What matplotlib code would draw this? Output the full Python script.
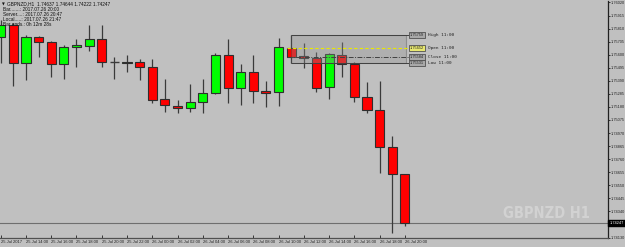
import matplotlib
matplotlib.use("Agg")
import matplotlib.pyplot as plt
from matplotlib.patches import Rectangle

# ---- data ----
opens  = [1.75742, 1.75839, 1.75531, 1.75742, 1.75705, 1.75525, 1.75660, 1.75673, 1.75726, 1.75541,
          1.75531, 1.75541, 1.75504, 1.75242, 1.75190, 1.75174, 1.75217, 1.75295, 1.75598, 1.75330,
          1.75461, 1.75311, 1.75298, 1.75652, 1.75590, 1.75571, 1.75338, 1.75598, 1.75523, 1.75258,
          1.75156, 1.74860, 1.74637]
highs  = [1.75879, 1.75855, 1.75759, 1.75750, 1.75713, 1.75676, 1.75726, 1.75839, 1.75839, 1.75584,
          1.75600, 1.75563, 1.75566, 1.75402, 1.75236, 1.75365, 1.75402, 1.75611, 1.75726, 1.75523,
          1.75598, 1.75389, 1.75732, 1.75759, 1.75697, 1.75619, 1.75616, 1.75705, 1.75539, 1.75383,
          1.75389, 1.74949, 1.74644]
lows   = [1.75533, 1.75348, 1.75397, 1.75584, 1.75423, 1.75407, 1.75499, 1.75630, 1.75504, 1.75402,
          1.75464, 1.75397, 1.75209, 1.75139, 1.75129, 1.75142, 1.75129, 1.75284, 1.75214, 1.75196,
          1.75214, 1.75182, 1.75188, 1.75531, 1.75491, 1.75298, 1.75244, 1.75423, 1.75222, 1.75129,
          1.74651, 1.74169, 1.74222]
closes = [1.75839, 1.75533, 1.75740, 1.75705, 1.75525, 1.75660, 1.75676, 1.75729, 1.75541, 1.75541,
          1.75541, 1.75504, 1.75236, 1.75193, 1.75174, 1.75217, 1.75290, 1.75598, 1.75330, 1.75459,
          1.75308, 1.75295, 1.75660, 1.75584, 1.75571, 1.75330, 1.75603, 1.75523, 1.75263, 1.75158,
          1.74860, 1.74637, 1.74247]

time_labels = ["25 Jul 2017", "25 Jul 14:00", "25 Jul 16:00", "25 Jul 18:00", "25 Jul 20:00",
               "25 Jul 22:00", "26 Jul 00:00", "26 Jul 02:00", "26 Jul 04:00", "26 Jul 06:00",
               "26 Jul 08:00", "26 Jul 10:00", "26 Jul 12:00", "26 Jul 14:00", "26 Jul 16:00",
               "26 Jul 18:00", "26 Jul 20:00"]
price_ticks = [1.76020, 1.75915, 1.75810, 1.75705, 1.75600, 1.75495, 1.75390, 1.75285, 1.75180,
               1.75075, 1.74970, 1.74865, 1.74760, 1.74655, 1.74550, 1.74445, 1.74340, 1.74130]
current_price = 1.74247
ref_bar = 23  # 26 Jul 11:00
info_lines = ["GBPNZD,H1  1.74637 1.74644 1.74222 1.74247",
              "Bar.......: 2017.07.26 20:00",
              "Server....: 2017.07.26 20:47",
              "Local.....: 2017.07.26 21:47",
              "Bar ends.: 0h 12m 28s"]

SMALL = ["Liberation Sans", "DejaVu Sans"]

# ---- figure ----
BG = "#c0c0c0"
W, H = 625, 247
fig = plt.figure(figsize=(W / 100, H / 100), dpi=100, facecolor=BG)
ax = fig.add_axes([0, 9 / H, 608 / W, 237 / H], facecolor=BG)
ax.set_xlim(-0.055, 48.08)
ax.set_ylim(1.74126, 1.76032)

n = len(opens)
xs = list(range(n))
# current price line
ax.axhline(current_price, color="#6e6e6e", lw=0.8, zorder=1)

# wicks
ax.vlines(xs, lows, highs, color="#3a3a3a", lw=0.9, zorder=2)
# bodies
for i in xs:
    o, c = opens[i], closes[i]
    col = "#00ff00" if c > o else "#ff0000"
    if c == o:
        ax.hlines(o, i - 0.36, i + 0.36, color="#3a3a3a", lw=1.0, zorder=3)
    else:
        ax.bar(i, abs(c - o), bottom=min(o, c), width=0.72, color=col,
               edgecolor="#2e2e2e", linewidth=0.8, zorder=3)

# reference box for bar 23
hi, lo, op, cl = highs[ref_bar], lows[ref_bar], opens[ref_bar], closes[ref_bar]
ax.add_patch(Rectangle((ref_bar, lo), 32.05 - ref_bar, hi - lo, facecolor="#909090",
                       alpha=0.35, edgecolor="#404040", lw=0.8, zorder=4))
ax.hlines([hi, lo], ref_bar, 32.35, color="#404040", lw=0.7, zorder=5)
ax.hlines(op, ref_bar - 0.33, 32.35, color="#e8e800", lw=0.8, linestyles=(0, (3, 2)), zorder=5)
ax.hlines(cl, ref_bar - 0.33, 32.35, color="#404040", lw=0.7, linestyles=(0, (5, 1.5, 1, 1.5)), zorder=5)
for val, name, fc in [(hi, "High", "#a8a8a8"), (op, "Open", "#e8e870"),
                      (cl, "Close", "#a8a8a8"), (lo, "Low", "#a8a8a8")]:
    ax.text(32.38, val, f"{val:.5f}", fontsize=2.8, va="center", ha="left", color="#202020",
            family=SMALL, bbox=dict(boxstyle="square,pad=0.3", fc=fc, ec="#505050", lw=0.6), zorder=6)
    ax.text(33.85, val, f"{name} 11:00", fontsize=3.2, va="center", ha="left",
            color="#202020", family="DejaVu Sans Mono", zorder=6)

# axes styling
for s in ["left", "top"]:
    ax.spines[s].set_visible(False)
ax.spines["right"].set_color("#202020")
ax.spines["bottom"].set_color("#505050")
ax.spines["right"].set_linewidth(0.9)
ax.spines["bottom"].set_linewidth(0.9)

ax.yaxis.tick_right()
ax.set_yticks(price_ticks)
ax.set_yticklabels([f"{p:.5f}" for p in price_ticks], family=SMALL)
ax.tick_params(axis="y", direction="out", length=1.5, width=0.6, pad=0.3,
               labelsize=2.8, colors="#202020")
ax.set_xticks(list(range(0, n, 2)))
ax.set_xticklabels(time_labels, ha="left", family=SMALL)
ax.tick_params(axis="x", direction="in", length=2, width=0.6, pad=1.5,
               labelsize=3.0, colors="#202020")

# current price label on the axis
ax.text(1.002, current_price, f"{current_price:.5f}", transform=ax.get_yaxis_transform(),
        fontsize=2.8, color="white", va="center", ha="left", family=SMALL,
        bbox=dict(boxstyle="square,pad=0.3", fc="black", ec="black"), clip_on=False, zorder=10)

# info text top-left
for j, line in enumerate(info_lines):
    fig.text(7 / W if j == 0 else 3 / W, 1 - (4 + 5.2 * j) / H, line, fontsize=3.4,
             color="#101010", va="center", ha="left", family=SMALL)
fig.text(2 / W, 1 - 4 / H, "\u25bc", fontsize=2.6, color="#101010", va="center", ha="left")

# watermark
fig.text(590 / W, 1 - 218 / H, "GBPNZD H1", fontsize=10.5, fontweight="bold",
         fontstretch="condensed", color="#d2d2d2", ha="right", va="baseline",
         family="DejaVu Sans", zorder=0)

fig.savefig("out.png", dpi=100, facecolor=BG)
